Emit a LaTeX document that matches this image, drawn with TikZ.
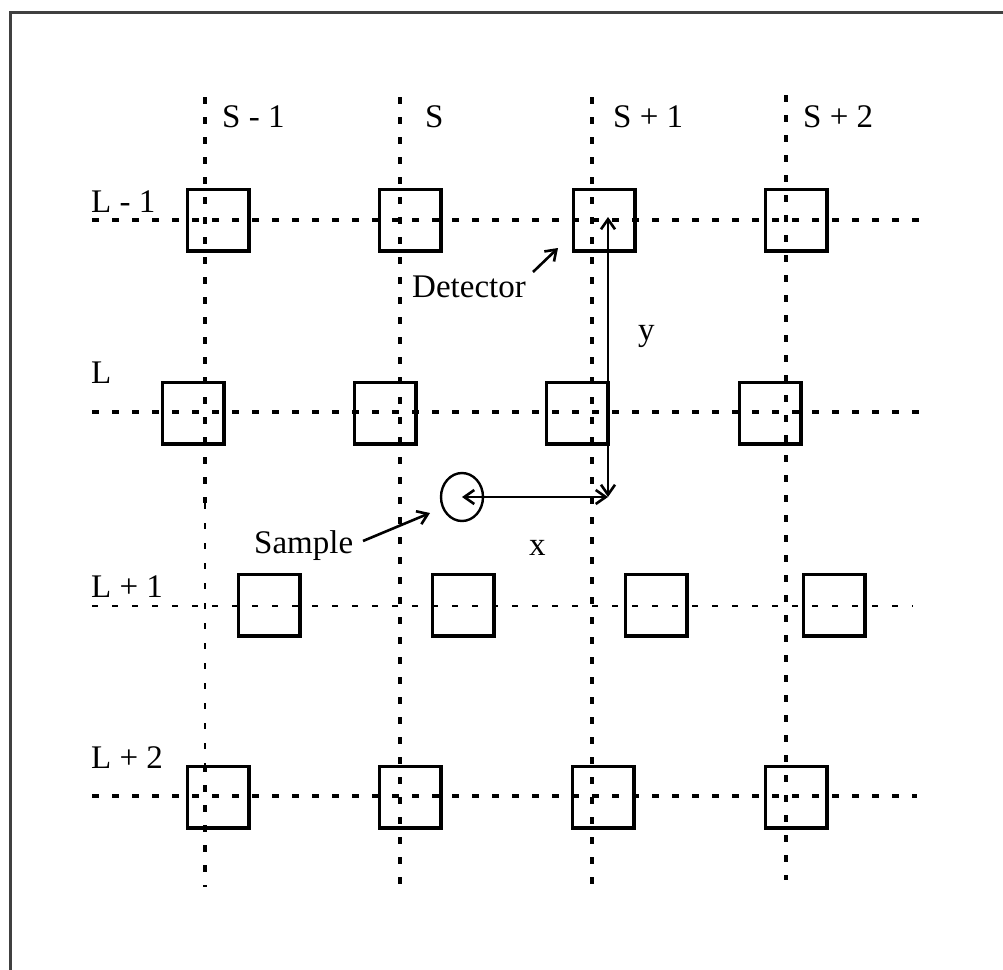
\documentclass[tikz,border=0pt]{standalone}
\usepackage{fontspec}
\setmainfont{Liberation Serif}
\usetikzlibrary{arrows.meta,shapes.geometric}
\definecolor{framegray}{RGB}{64,64,64}
\begin{document}
\begin{tikzpicture}[x=1pt,y=-1pt,
  gridthick/.style={line width=4pt,dash pattern=on 6.5pt off 13.5pt},
  gridthin/.style={line width=1.5pt,dash pattern=on 6pt off 14pt},
  detbox/.style={draw,line width=3.5pt,minimum width=61.5pt,minimum height=61.5pt,inner sep=0pt},
  lbl/.style={inner sep=0pt,anchor=base west,font=\fontsize{33}{40}\selectfont},
  arr/.style={line width=2.6pt,>={Straight Barb[length=10pt,width=14pt,line width=2.6pt]}}
]
\useasboundingbox (0,0) rectangle (1003,969);
\draw[line width=3pt,framegray] (10,980) -- (10,12) -- (1015,12);

% grid line end points
\coordinate (v1t) at (205,97);  \coordinate (v1a) at (205,503); \coordinate (v1b) at (205,765); \coordinate (v1e) at (205,887);
\coordinate (v2t) at (400,97);  \coordinate (v2e) at (400,887);
\coordinate (v3t) at (592,97);  \coordinate (v3e) at (592,887);
\coordinate (v4t) at (786,95);  \coordinate (v4e) at (786,880);
\coordinate (h1s) at (92,220);  \coordinate (h1e) at (920,220);
\coordinate (h2s) at (92,412);  \coordinate (h2e) at (920,412);
\coordinate (h3s) at (92,606);  \coordinate (h3e) at (913,606);
\coordinate (h4s) at (92,796);  \coordinate (h4e) at (917,796);

\draw[gridthick] (v1t) -- (v1a);
\draw[gridthin] (v1a) -- (v1b);
\draw[gridthick] (v1b) -- (v1e);
\draw[gridthick] (v2t) -- (v2e);
\draw[gridthick] (v3t) -- (v3e);
\draw[gridthick] (v4t) -- (v4e);
\draw[gridthick] (h1s) -- (h1e);
\draw[gridthick] (h2s) -- (h2e);
\draw[gridthin] (h3s) -- (h3e);
\draw[gridthick] (h4s) -- (h4e);

% detectors
\node[detbox] (d11) at (218,220) {};
\node[detbox] (d12) at (410,220) {};
\node[detbox] (d13) at (604,220) {};
\node[detbox] (d14) at (796,220) {};
\node[detbox] (d21) at (193,413) {};
\node[detbox] (d22) at (385,413) {};
\node[detbox] (d23) at (577,413) {};
\node[detbox] (d24) at (770,413) {};
\node[detbox] (d31) at (269,605) {};
\node[detbox] (d32) at (463,605) {};
\node[detbox] (d33) at (656,605) {};
\node[detbox] (d34) at (834,605) {};
\node[detbox] (d41) at (218,797) {};
\node[detbox] (d42) at (410,797) {};
\node[detbox] (d43) at (603,797) {};
\node[detbox] (d44) at (796,797) {};

% sample
\node[draw,ellipse,line width=2.4pt,minimum width=42pt,minimum height=48pt,inner sep=0pt] (smp) at (462,497) {};

% labels
\node[lbl] (ls1) at (222,127) {S - 1};
\node[lbl] (ls2) at (425,127) {S};
\node[lbl] (ls3) at (613,127) {S + 1};
\node[lbl] (ls4) at (803,127) {S + 2};
\node[lbl] (ll1) at (91,212) {L - 1};
\node[lbl] (ll2) at (91,383) {L};
\node[lbl] (ll3) at (91,597) {L + 1};
\node[lbl] (ll4) at (91,768) {L + 2};
\node[lbl] (ldet) at (412,297) {Detector};
\node[lbl] (lsmp) at (254,553) {Sample};
\node[lbl] (lx) at (529,555) {x};
\node[lbl] (ly) at (638,340) {y};

% arrows
\coordinate (corner) at (608,497);
\coordinate (dtop) at (608,217);
\coordinate (detA) at (533,272);
\coordinate (detB) at (558,248);
\coordinate (smpA) at (363,541);
\coordinate (smpB) at (430,513);
\draw[arr,<->] (smp.center) -- (corner);
\draw[arr,<->] (dtop) -- (corner);
\draw[arr,->] (detA) -- (detB);
\draw[arr,->] (smpA) -- (smpB);
\end{tikzpicture}
\end{document}
